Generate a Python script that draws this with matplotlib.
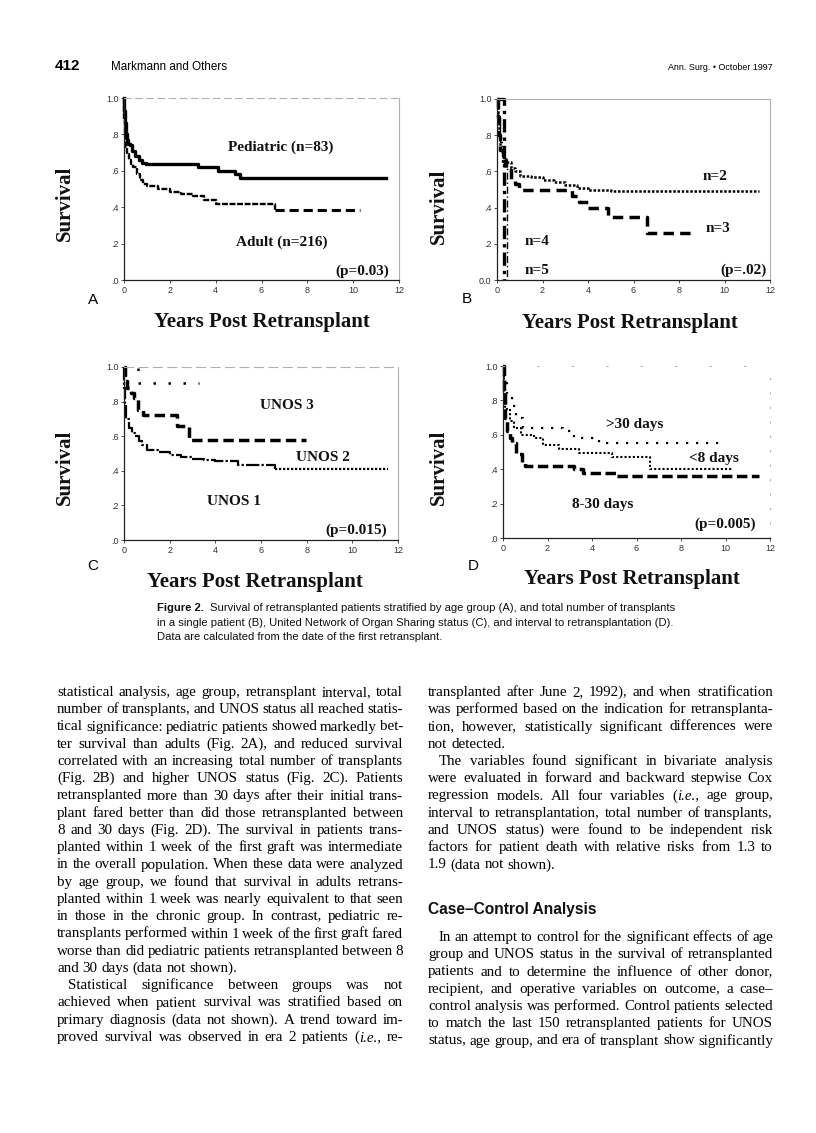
import matplotlib
matplotlib.use("Agg")
import matplotlib.pyplot as plt

# ---------------- data ----------------
# Panel A: age group
ped_t = [0, 0.02, 0.05, 0.08, 0.12, 0.18, 0.25, 0.35, 0.5, 0.65, 0.8, 0.95, 3.25, 4.1, 4.85, 5.05, 11.45]
ped_s = [1.0, 0.93, 0.86, 0.80, 0.77, 0.75, 0.74, 0.71, 0.68, 0.66, 0.645, 0.635, 0.62, 0.60, 0.58, 0.562, 0.562]
adult_t = [0, 0.02, 0.05, 0.1, 0.15, 0.2, 0.3, 0.4, 0.55, 0.7, 0.85, 1.0, 1.5, 2.0, 2.5, 3.0, 3.5, 4.0, 6.6, 10.3]
adult_s = [1.0, 0.88, 0.79, 0.73, 0.69, 0.66, 0.64, 0.62, 0.58, 0.55, 0.53, 0.515, 0.50, 0.486, 0.47, 0.46, 0.44, 0.42, 0.385, 0.385]

# Panel B: total number of transplants
n2_t = [0, 0.03, 0.08, 0.15, 0.25, 0.4, 0.6, 0.8, 1.0, 1.5, 2.0, 2.5, 3.0, 3.5, 4.0, 5.0, 11.5]
n2_s = [1.0, 0.9, 0.8, 0.72, 0.68, 0.65, 0.62, 0.60, 0.575, 0.57, 0.55, 0.54, 0.525, 0.51, 0.50, 0.49, 0.49]
n3_t = [0, 0.03, 0.08, 0.15, 0.25, 0.4, 0.6, 0.8, 0.95, 3.3, 3.6, 4.0, 4.9, 6.6, 8.65]
n3_s = [1.0, 0.9, 0.8, 0.72, 0.66, 0.61, 0.56, 0.53, 0.50, 0.465, 0.43, 0.40, 0.35, 0.26, 0.26]
n4_t = [0, 0.05, 0.12, 0.2, 0.3, 0.42]
n4_s = [1.0, 0.88, 0.76, 0.68, 0.63, 0.0]
n5_t = [0, 0.3]
n5_s = [1.0, 0.0]

# Panel C: UNOS status
u1_t = [0, 0.02, 0.05, 0.1, 0.2, 0.35, 0.5, 0.65, 0.8, 1.0, 1.5, 2.0, 2.5, 3.0, 3.5, 4.0, 5.0, 6.6, 11.55]
u1_s = [1.0, 0.88, 0.78, 0.70, 0.65, 0.62, 0.60, 0.57, 0.55, 0.52, 0.51, 0.49, 0.48, 0.47, 0.46, 0.455, 0.435, 0.413, 0.413]
u2_t = [0, 0.05, 0.15, 0.3, 0.45, 0.6, 0.85, 2.3, 2.85, 7.95]
u2_s = [1.0, 0.92, 0.88, 0.85, 0.82, 0.75, 0.72, 0.66, 0.58, 0.58]
u3_t = [0, 0.6, 3.3]
u3_s = [1.0, 0.91, 0.91]

# Panel D: interval to retransplantation
gt30_t = [0, 0.05, 0.18, 0.4, 0.6, 0.9, 2.7, 3.2, 4.3, 9.7]
gt30_s = [1.0, 0.9, 0.84, 0.77, 0.70, 0.64, 0.62, 0.58, 0.55, 0.55]
lt8_t = [0, 0.03, 0.1, 0.3, 0.5, 0.8, 1.4, 1.8, 2.5, 3.4, 4.9, 6.6, 10.3]
lt8_s = [1.0, 0.85, 0.75, 0.68, 0.64, 0.60, 0.58, 0.54, 0.515, 0.495, 0.47, 0.40, 0.40]
mid_t = [0, 0.03, 0.1, 0.2, 0.3, 0.4, 0.6, 0.85, 1.0, 3.2, 3.6, 5.1, 11.5]
mid_s = [1.0, 0.85, 0.70, 0.62, 0.58, 0.55, 0.49, 0.44, 0.42, 0.40, 0.38, 0.36, 0.36]

xticks = [0, 2, 4, 6, 8, 10, 12]
yticks = [0, 0.2, 0.4, 0.6, 0.8, 1.0]
ylabels_std = [".0", ".2", ".4", ".6", ".8", "1.0"]
ylabels_b = ["0.0", ".2", ".4", ".6", ".8", "1.0"]

caption_lines = [
    "Survival of retransplanted patients stratified by age group (A), and total number of transplants",
    "in a single patient (B), United Network of Organ Sharing status (C), and interval to retransplantation (D).",
    "Data are calculated from the date of the first retransplant.",
]

left_col = [
    "statistical analysis, age group, retransplant interval, total",
    "number of transplants, and UNOS status all reached statis-",
    "tical significance: pediatric patients showed markedly bet-",
    "ter survival than adults (Fig. 2A), and reduced survival",
    "correlated with an increasing total number of transplants",
    "(Fig. 2B) and higher UNOS status (Fig. 2C). Patients",
    "retransplanted more than 30 days after their initial trans-",
    "plant fared better than did those retransplanted between",
    "8 and 30 days (Fig. 2D). The survival in patients trans-",
    "planted within 1 week of the first graft was intermediate",
    "in the overall population. When these data were analyzed",
    "by age group, we found that survival in adults retrans-",
    "planted within 1 week was nearly equivalent to that seen",
    "in those in the chronic group. In contrast, pediatric re-",
    "transplants performed within 1 week of the first graft fared",
    "worse than did pediatric patients retransplanted between 8",
    "and 30 days (data not shown).",
    "Statistical significance between groups was not",
    "achieved when patient survival was stratified based on",
    "primary diagnosis (data not shown). A trend toward im-",
    "proved survival was observed in era 2 patients (*i.e.,* re-",
]
left_last = {16}
left_indent = {17}

right_col_a = [
    "transplanted after June 2, 1992), and when stratification",
    "was performed based on the indication for retransplanta-",
    "tion, however, statistically significant differences were",
    "not detected.",
    "The variables found significant in bivariate analysis",
    "were evaluated in forward and backward stepwise Cox",
    "regression models. All four variables (*i.e.,* age group,",
    "interval to retransplantation, total number of transplants,",
    "and UNOS status) were found to be independent risk",
    "factors for patient death with relative risks from 1.3 to",
    "1.9 (data not shown).",
]
right_a_last = {3, 10}
right_a_indent = {4}
right_col_b = [
    "In an attempt to control for the significant effects of age",
    "group and UNOS status in the survival of retransplanted",
    "patients and to determine the influence of other donor,",
    "recipient, and operative variables on outcome, a case\u2013",
    "control analysis was performed. Control patients selected",
    "to match the last 150 retransplanted patients for UNOS",
    "status, age group, and era of transplant show significantly",
]

# ---------------- figure ----------------
W, H = 816, 1133
fig = plt.figure(figsize=(W / 100, H / 100), dpi=100)
fig.patch.set_facecolor("white")
SERIF = "Liberation Serif"
SANS = "Liberation Sans"


def ft(x, y, s, **kw):
    return fig.text(x / W, 1 - y / H, s, **kw)


def axes_px(l, t, r, b):
    return fig.add_axes([l / W, 1 - b / H, (r - l) / W, (b - t) / H])


def style_axes(ax, ylabels, top_ls="--", right_ls="-"):
    ax.set_xlim(0, 12)
    ax.set_ylim(0, 1.0)
    ax.set_xticks(xticks)
    ax.set_yticks(yticks)
    ax.set_yticklabels(ylabels)
    for sp in ["left", "bottom"]:
        ax.spines[sp].set_linewidth(0.9)
        ax.spines[sp].set_color("#222222")
    ax.spines["top"].set_color("#b0b0b0")
    ax.spines["top"].set_linewidth(0.8)
    ax.spines["top"].set_linestyle(top_ls)
    ax.spines["right"].set_color("#b0b0b0")
    ax.spines["right"].set_linewidth(0.8)
    ax.spines["right"].set_linestyle(right_ls)
    ax.tick_params(direction="out", length=2.5, width=0.6, pad=1.5,
                   labelsize=6.5, colors="#333333")
    for lab in ax.get_xticklabels() + ax.get_yticklabels():
        lab.set_fontfamily(SANS)


def km(ax, t, s, **kw):
    ax.step(t, s, where="post", color="black", clip_on=False, **kw)


lab_kw = dict(fontfamily=SERIF, fontweight="bold", fontsize=11, color="#111111")

# Panel A
axA = axes_px(124, 98, 399, 280)
km(axA, ped_t, ped_s, lw=2.4)
km(axA, adult_t[:19], adult_s[:19], lw=1.7, ls=(0, (2.5, 0.7)))
km(axA, adult_t[18:], adult_s[18:], lw=2.2, ls=(0, (3, 1.6)))
style_axes(axA, ylabels_std, top_ls=(0, (6, 4)))
axA.text(6.85, 0.73, "Pediatric (n=83)", ha="center", va="center", **lab_kw)
axA.text(6.9, 0.205, "Adult (n=216)", ha="center", va="center", **lab_kw)
axA.text(11.55, 0.05, "(p=0.03)", ha="right", va="center", **lab_kw)

# Panel B
axB = axes_px(497, 99, 770, 280)
km(axB, n2_t, n2_s, lw=1.8, ls=(0, (1, 0.7)))
km(axB, n3_t, n3_s, lw=2.5, ls=(0, (3, 1.8)))
km(axB, n4_t, n4_s, lw=1.0, ls=(0, (5, 2, 1, 2)))
km(axB, n5_t, n5_s, lw=2.4, ls=(0, (4, 1.5, 1, 1.5)))
style_axes(axB, ylabels_b, top_ls="-")
axB.text(9.6, 0.57, "n=2", ha="center", va="center", **lab_kw)
axB.text(9.7, 0.285, "n=3", ha="center", va="center", **lab_kw)
axB.text(1.75, 0.21, "n=4", ha="center", va="center", **lab_kw)
axB.text(1.75, 0.055, "n=5", ha="center", va="center", **lab_kw)
axB.text(11.85, 0.055, "(p=.02)", ha="right", va="center", **lab_kw)

# Panel C
axC = axes_px(124, 367, 398, 540)
km(axC, u1_t[:18], u1_s[:18], lw=1.6, ls=(0, (6, 1, 1, 1)))
km(axC, u1_t[17:], u1_s[17:], lw=1.6, ls=(0, (1, 0.8)))
km(axC, u2_t, u2_s, lw=2.5, ls=(0, (3, 1.5)))
km(axC, u3_t, u3_s, lw=1.8, ls=(0, (1, 5)))
style_axes(axC, ylabels_std, top_ls=(0, (8, 5)))
axC.text(7.15, 0.78, "UNOS 3", ha="center", va="center", **lab_kw)
axC.text(8.7, 0.474, "UNOS 2", ha="center", va="center", **lab_kw)
axC.text(4.8, 0.22, "UNOS 1", ha="center", va="center", **lab_kw)
axC.text(11.5, 0.058, "(p=0.015)", ha="right", va="center", **lab_kw)

# Panel D
axD = axes_px(503, 366, 770, 538)
km(axD, gt30_t, gt30_s, lw=1.6, ls=(0, (1, 3.5)))
km(axD, lt8_t, lt8_s, lw=1.5, ls=(0, (1, 1)))
km(axD, mid_t, mid_s, lw=2.5, ls=(0, (3, 1.3)))
style_axes(axD, ylabels_std, top_ls=(0, (1, 30)), right_ls=(0, (1, 12)))
axD.text(5.9, 0.66, ">30 days", ha="center", va="center", **lab_kw)
axD.text(9.5, 0.462, "<8 days", ha="center", va="center", **lab_kw)
axD.text(4.5, 0.196, "8-30 days", ha="center", va="center", **lab_kw)
axD.text(11.35, 0.08, "(p=0.005)", ha="right", va="center", **lab_kw)

# axis titles, panel letters
big = dict(fontfamily=SERIF, fontweight="bold", fontsize=15, color="#111111")
for x, y in [(65, 203), (439, 206), (65, 467), (439, 467)]:
    ft(x, y, "Survival", rotation=90, ha="center", va="center", **big)
for x, y in [(262, 322), (630, 323), (255, 582), (632, 579)]:
    ft(x, y, "Years Post Retransplant", ha="center", va="center", **big)
for x, y, s in [(93, 300, "A"), (467, 299, "B"), (93, 566, "C"), (473, 566, "D")]:
    ft(x, y, s, ha="center", va="center", fontfamily=SANS, fontsize=11)

# running header
ft(55, 70, "412", fontfamily=SANS, fontweight="bold", fontsize=11, va="baseline")
ft(111, 70, "Markmann and Others", fontfamily=SANS, fontsize=8.4, va="baseline")
ft(773, 70, "Ann. Surg. \u2022 October 1997", fontfamily=SANS, fontsize=6.4,
   va="baseline", ha="right")

renderer = fig.canvas.get_renderer()
_cache = {}


def ink(s, **kw):
    key = (s, tuple(sorted(kw.items())))
    if key not in _cache:
        t = fig.text(0, 0, s, **kw)
        _cache[key] = t.get_window_extent(renderer).width
        t.remove()
    return _cache[key]


def adv(s, **kw):
    # advance width: bracket the string with bars so the ink box spans it
    return ink("|" + s + "|", **kw) - ink("||", **kw)


# caption
cap_kw = dict(fontfamily=SANS, fontsize=8.1, color="#111111")
cap_x, cap_y0, cap_dy = 157, 611, 14.6
ft(cap_x, cap_y0, "Figure 2.", fontweight="bold", va="baseline", **cap_kw)
wb = adv("Figure 2.", fontweight="bold", **cap_kw)
ft(cap_x + wb + 6, cap_y0, caption_lines[0], va="baseline", **cap_kw)
for i, line in enumerate(caption_lines[1:], start=1):
    ft(cap_x, cap_y0 + i * cap_dy, line, va="baseline", **cap_kw)

# body text, justified
body_kw = dict(fontfamily=SERIF, fontsize=10.8, color="black")


def parse(word):
    segs = word.split("*")
    return [(s, i % 2 == 1) for i, s in enumerate(segs) if s]


def draw_line(line, x0, x1, y, justify=True, indent=0):
    words = [parse(w) for w in line.split(" ")]
    wds = []
    for p in words:
        wds.append(sum(adv(s, style="italic" if it else "normal", **body_kw) for s, it in p))
    xs = x0 + indent
    if justify and len(words) > 1:
        gap = (x1 - xs - sum(wds)) / (len(words) - 1)
    else:
        gap = adv(" ", **body_kw)
    x = xs
    for p, w in zip(words, wds):
        for s, it in p:
            st = "italic" if it else "normal"
            ft(x, y, s, va="baseline", style=st, **body_kw)
            x += adv(s, style=st, **body_kw)
        x += gap


LX0, LX1, RX0, RX1 = 57, 403, 428, 773
y0, dy = 696, 17.25
for i, line in enumerate(left_col):
    draw_line(line, LX0, LX1, y0 + i * dy, justify=i not in left_last,
              indent=11 if i in left_indent else 0)
for i, line in enumerate(right_col_a):
    draw_line(line, RX0, RX1, y0 + i * dy, justify=i not in right_a_last,
              indent=11 if i in right_a_indent else 0)
ft(RX0, 914, "Case\u2013Control Analysis", fontfamily=SANS, fontweight="bold",
   fontsize=11.2, va="baseline", color="#111111")
yb = 941
for i, line in enumerate(right_col_b):
    draw_line(line, RX0, RX1, yb + i * dy, justify=True, indent=11 if i == 0 else 0)

fig.savefig("out.png", dpi=100, facecolor="white")
